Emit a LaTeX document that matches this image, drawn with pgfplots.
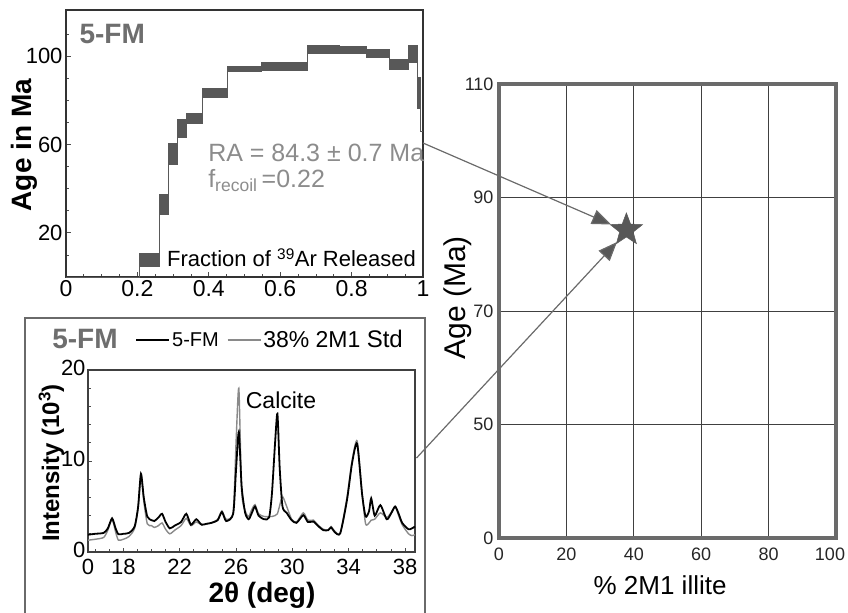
\documentclass[border=0pt]{standalone}
\usepackage{fontspec}
\setmainfont{Liberation Sans}
\usepackage{pgfplots}
\usepackage{pgfplotstable}
\pgfplotsset{compat=1.18}
\usetikzlibrary{arrows.meta}
\newcommand{\fs}[1]{\fontsize{#1bp}{#1bp}\selectfont}
\definecolor{boxc}{HTML}{585858}
\definecolor{labgray}{HTML}{6E6E6E}
\definecolor{ragray}{HTML}{8C8C8C}
\definecolor{framec}{HTML}{6A6A6A}
\definecolor{stdgray}{HTML}{8A8A8A}

% filled five point star for the right panel
\pgfdeclareplotmark{fstar}{%
  \pgfmathsetlengthmacro\rin{0.42*\pgfplotmarksize}%
  \pgfpathmoveto{\pgfpointpolar{90}{\pgfplotmarksize}}%
  \pgfpathlineto{\pgfpointpolar{126}{\rin}}%
  \pgfpathlineto{\pgfpointpolar{162}{\pgfplotmarksize}}%
  \pgfpathlineto{\pgfpointpolar{198}{\rin}}%
  \pgfpathlineto{\pgfpointpolar{234}{\pgfplotmarksize}}%
  \pgfpathlineto{\pgfpointpolar{270}{\rin}}%
  \pgfpathlineto{\pgfpointpolar{306}{\pgfplotmarksize}}%
  \pgfpathlineto{\pgfpointpolar{342}{\rin}}%
  \pgfpathlineto{\pgfpointpolar{18}{\pgfplotmarksize}}%
  \pgfpathlineto{\pgfpointpolar{54}{\rin}}%
  \pgfpathclose\pgfusepathqfillstroke}

% line through the step centres of the age spectrum
\pgfplotstableread{
x     y
0.000 0
0.207 7.7
0.261 32.9
0.288 55.8
0.312 67.1
0.337 72.0
0.383 83.4
0.452 94.4
0.548 95.3
0.676 103.3
0.767 102.9
0.842 101.2
0.906 96.3
0.960 101.0
0.984 83.3
0.994 66.0
1.000 66.0
}\midline

% XRD patterns
\pgfplotstableread{
deg   fm    std
15.5  1.9   1.3
16.0  2.0   1.4
16.6  2.1   1.6
16.9  2.6   2.4
17.2  3.7   3.6
17.45 2.6   2.2
17.65 1.95  1.3
18.0  2.0   1.4
18.4  2.1   1.7
18.8  2.8   2.6
19.05 5.0   4.8
19.25 8.6   8.5
19.45 6.0   5.6
19.7  3.9   3.1
20.0  3.5   2.9
20.2  3.4   2.7
20.5  3.8   2.9
20.75 4.2   3.2
21.0  3.3   2.5
21.3  2.6   2.0
21.65 2.9   2.4
22.1  3.3   2.9
22.47 4.2   3.7
22.8  3.0   2.9
23.18 3.6   3.3
23.55 3.0   3.0
23.9  3.1   3.1
24.25 3.2   3.2
24.7  3.5   3.6
25.0  4.4   4.5
25.3  3.4   3.6
25.8  4.2   4.4
26.0  9.0   11.9
26.2  13.2  18.0
26.4  7.2   6.7
26.65 4.3   4.5
26.9  3.6   3.9
27.1  4.2   4.6
27.35 5.0   5.2
27.6  4.0   4.2
28.0  3.6   3.9
28.35 3.8   3.9
28.55 6.4   3.9
28.77 11.9  4.0
28.94 15.2  4.2
29.1  9.3   5.1
29.3  5.0   6.1
29.6  4.3   5.0
29.95 3.5   3.6
30.3  3.2   3.3
30.78 4.05  4.3
31.1  3.3   3.5
31.5  3.35  3.5
31.8  2.9   3.0
32.2  2.4   2.5
32.55 2.4   2.4
32.75 2.7   2.8
33.0  2.2   2.3
33.4  2.05  2.1
33.88 5.7   6.0
34.24 9.75  10.0
34.6  11.9  12.2
34.95 6.4   6.5
35.2  3.9   3.1
35.45 4.5   3.2
35.6  5.9   3.5
35.85 4.0   3.6
36.25 5.15  4.3
36.7  3.6   3.8
37.0  4.2   4.3
37.3  5.0   5.0
37.55 4.2   4.0
37.8  3.2   3.0
38.25 2.5   2.0
38.5  2.6   1.8
38.7  2.8   1.9
}\xrd

\begin{document}
\begin{tikzpicture}
\useasboundingbox (0,0) rectangle (848bp,-613bp);

% ---- top left: age spectrum ----
\begin{axis}[
  at={(66bp,-277bp)}, anchor=south west, scale only axis,
  width=357bp, height=267bp,
  xmin=0, xmax=1, ymin=0, ymax=121,
  xtick={0,0.2,0.4,0.6,0.8,1}, minor x tick num=3,
  ytick={20,60,100}, minor ytick={10,30,40,50,70,80,90,110},
  tick align=inside, tick pos=left,
  major tick length=5bp, minor tick length=3bp,
  tick style={black!70, line width=0.8bp},
  axis line style={black!80, line width=1.2bp},
  /pgf/number format/assume math mode=true,
  xticklabel style={font=\fs{23}},
  yticklabel style={font=\fs{22}},
  ylabel={\bfseries Age in Ma},
  ylabel style={font=\fs{28}, at={(axis description cs:-0.118,0.494)}, anchor=center},
  clip=false,
  step/.style={fill=boxc, draw=boxc, line width=1bp},
]
  \addplot[const plot, gray!70!black, line width=0.9bp] table[x=x, y=y] {\midline};
  % steps: fraction interval x age interval (2 sigma)
  \addplot[step] coordinates {(0.207,4.7) (0.261,4.7) (0.261,10.6) (0.207,10.6)} -- cycle;
  \addplot[step] coordinates {(0.261,28.5) (0.288,28.5) (0.288,37.3) (0.261,37.3)} -- cycle;
  \addplot[step] coordinates {(0.288,51.2) (0.312,51.2) (0.312,60.3) (0.288,60.3)} -- cycle;
  \addplot[step] coordinates {(0.312,63.0) (0.337,63.0) (0.337,71.2) (0.312,71.2)} -- cycle;
  \addplot[step] coordinates {(0.337,69.7) (0.383,69.7) (0.383,74.2) (0.337,74.2)} -- cycle;
  \addplot[step] coordinates {(0.383,81.5) (0.452,81.5) (0.452,85.3) (0.383,85.3)} -- cycle;
  \addplot[step] coordinates {(0.452,93.3) (0.548,93.3) (0.548,95.5) (0.452,95.5)} -- cycle;
  \addplot[step] coordinates {(0.548,93.6) (0.676,93.6) (0.676,97.0) (0.548,97.0)} -- cycle;
  \addplot[step] coordinates {(0.676,101.5) (0.767,101.5) (0.767,105.0) (0.676,105.0)} -- cycle;
  \addplot[step] coordinates {(0.767,101.2) (0.842,101.2) (0.842,104.5) (0.767,104.5)} -- cycle;
  \addplot[step] coordinates {(0.842,99.4) (0.906,99.4) (0.906,103.0) (0.842,103.0)} -- cycle;
  \addplot[step] coordinates {(0.906,94.0) (0.960,94.0) (0.960,98.5) (0.906,98.5)} -- cycle;
  \addplot[step] coordinates {(0.960,97.0) (0.984,97.0) (0.984,105.0) (0.960,105.0)} -- cycle;
  \addplot[step] coordinates {(0.984,76.2) (0.994,76.2) (0.994,90.3) (0.984,90.3)} -- cycle;
  \node[anchor=west, font=\fs{28}\bfseries, text=labgray] at (axis description cs:0.028,0.91) {5-FM};
  \node[anchor=east, font=\fs{22}] at (axis description cs:0.99,0.072) {Fraction of \textsuperscript{39}Ar Released};
  \node[anchor=west, font=\fs{25}, text=ragray, inner sep=0pt] at (axis description cs:0.398,0.464) {RA = 84.3 ± 0.7 Ma};
  \node[anchor=west, font=\fs{25}, text=ragray, inner sep=0pt] at (axis description cs:0.398,0.362) {f\textsubscript{recoil}\,=0.22};
\end{axis}

% ---- bottom left: XRD patterns ----
\draw[framec, line width=1.8bp] (25bp,-640bp) -- (25bp,-318bp) -- (425bp,-318bp) -- (425bp,-640bp);
\begin{axis}[
  at={(88bp,-552bp)}, anchor=south west, scale only axis,
  width=327bp, height=182bp,
  xmin=15.49, xmax=38.71, ymin=0, ymax=20,
  xtick={15.49,18,22,26,30,34,38}, xticklabels={0,18,22,26,30,34,38},
  minor xtick={16,17,...,38},
  ytick={0,10,20}, yticklabels={0,10,20}, minor ytick={2,4,...,18},
  tick align=inside, tick pos=left,
  major tick length=4bp, minor tick length=3bp,
  tick style={black!70, line width=0.8bp},
  axis line style={black!75, line width=1.2bp},
  tick label style={font=\fs{22}},
  yticklabel style={xshift=1bp, yshift=2bp},
  xticklabel style={yshift=-4bp},
  xlabel={\bfseries 2θ (deg)},
  xlabel style={font=\fs{28}, at={(axis description cs:0.532,-0.24)}, anchor=center},
  ylabel={\bfseries Intensity (10\textsuperscript{3})},
  ylabel style={font=\fs{24}, at={(axis description cs:-0.112,0.489)}, anchor=center},
  clip=false,
  legend style={at={(axis description cs:0.145,1.165)}, anchor=west, draw=none, fill=none,
    legend columns=2, inner sep=0pt, outer sep=0pt,
    /tikz/every even column/.append style={column sep=6bp}},
  legend image code/.code={\draw[#1] (0bp,0bp) -- (33bp,0bp);},
  legend cell align=left,
]
  \addplot[stdgray, line width=1.4bp, smooth, tension=0.4, forget plot] table[x=deg, y=std] {\xrd};
  \addplot[black, line width=1.8bp, smooth, tension=0.4] table[x=deg, y=fm] {\xrd};
  \addlegendentry{\fs{20}5-FM}
  \addlegendimage{stdgray, line width=1.4bp}
  \addlegendentry{\fs{23}38\% 2M1 \fs{24}Std}
  \node[anchor=west, font=\fs{28}\bfseries, text=labgray] at (axis description cs:-0.12,1.17) {5-FM};
  \node[anchor=west, font=\fs{23}] at (axis cs:26.45,16.7) {Calcite};
\end{axis}

% ---- right: age versus % 2M1 illite ----
\begin{axis}[
  at={(499bp,-538bp)}, anchor=south west, scale only axis,
  width=337bp, height=454bp,
  xmin=0, xmax=100, ymin=30, ymax=110,
  xtick={0,20,40,60,80,100},
  xticklabels={0,20,40,60,80,{\hspace*{-12bp}100}},
  ytick={30,50,70,90,110}, yticklabels={0,50,70,90,110},
  grid=major, grid style={black!75, line width=0.8bp},
  major tick length=0pt, tick style={draw=none},
  axis line style={framec, line width=4.5bp},
  tick label style={font=\fs{18}, text=black!85},
  yticklabel style={xshift=-2bp},
  xticklabel style={yshift=-6bp},
  xlabel={\% 2M1 illite},
  xlabel style={font=\fs{26}, at={(axis description cs:0.478,-0.104)}, anchor=center},
  ylabel={Age (Ma)},
  ylabel style={font=\fs{30}, at={(axis description cs:-0.122,0.529)}, anchor=center},
  clip=false,
]
  \addplot[only marks, mark=fstar, mark size=17bp, mark options={fill=boxc, draw=boxc, line width=0.5bp}]
    coordinates {(37.8,84.3)};
\end{axis}

% arrows linking the panels to the star
\draw[framec, line width=1.2bp, -{Triangle[length=19bp, width=15bp, fill=boxc]}]
  (423bp,-143bp) -- (611bp,-224.5bp);
\draw[framec, line width=1.2bp, -{Triangle[length=19bp, width=15bp, fill=boxc]}]
  (416.5bp,-458bp) -- (617bp,-242bp);
\end{tikzpicture}
\end{document}
